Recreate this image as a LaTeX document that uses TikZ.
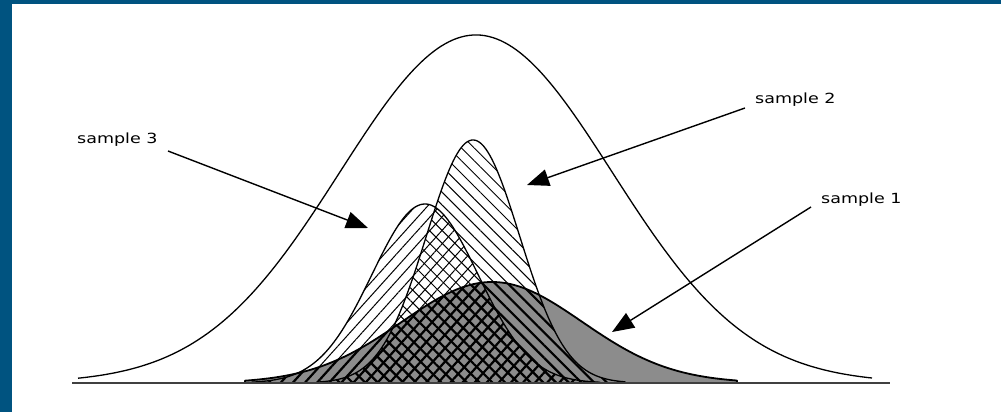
\documentclass[tikz,border=0pt]{standalone}
\usepackage{fontspec}
\newfontfamily\lblfont[FakeStretch=1.25]{DejaVu Sans}
\usetikzlibrary{patterns.meta,arrows.meta}
\definecolor{frameblue}{RGB}{0,83,128}
\definecolor{stipple}{RGB}{140,140,140}
\begin{document}
\begin{tikzpicture}[x=1pt,y=-1pt,
  declare function={gs(\x,\c,\s,\a)=383-\a*exp(-0.5*((\x-\c)/\s)^2);},
  curve/.style={draw=black, line width=1.3pt, line join=round},
  lbl/.style={font=\lblfont\fontsize{14}{16}\selectfont, inner sep=0pt, anchor=base west},
  arr/.style={line width=1.4pt, -{Triangle[length=22pt,width=17pt]}},
  hatchthree/.style={pattern={Lines[angle=48,distance=9pt,line width=#1]}, pattern color=black},
  hatchtwo/.style={pattern={Lines[angle=-45,distance=9pt,line width=#1]}, pattern color=black}
]
\useasboundingbox (0,0) rectangle (1001,412);
\fill[frameblue] (0,0) rectangle (1001,412);
\fill[white] (12,4) rectangle (1001,412);

% paths
\path[save path=\pone] (245,383) -- plot[domain=245:737,samples=150] (\x,{gs(\x,492,90,101)}) -- (737,383) -- cycle;
\path[save path=\ptwo] (320,383) -- plot[domain=320:625,samples=150] (\x,{gs(\x,473,46.5,243)}) -- (625,383) -- cycle;
\path[save path=\pthree] (252,383) -- plot[domain=252:600,samples=150] (\x,{gs(\x,425,53,179)}) -- (600,383) -- cycle;

% big population curve
\draw[curve] plot[domain=78:872,samples=200] (\x,{gs(\x,476,136,348)});

% sample 1 stipple
\fill[stipple, use path=\pone];
% hatches
\path[hatchthree=1pt, use path=\pthree];
\path[hatchtwo=1pt, use path=\ptwo];
\begin{scope}
  \clip[use path=\pone];
  \path[hatchthree=2.2pt, use path=\pthree];
  \path[hatchtwo=2.2pt, use path=\ptwo];
\end{scope}
% outlines
\draw[curve, use path=\pthree];
\draw[curve, use path=\ptwo];
\draw[curve, line width=1.8pt, use path=\pone];

% baseline
\draw[line width=2pt, draw=black!75] (72,383) -- (890,383);

% labels
\node[lbl] (l3) at (77,143) {sample 3};
\node[lbl] (l2) at (755,103) {sample 2};
\node[lbl] (l1) at (821,203) {sample 1};
\coordinate (s3) at (168,151);
\coordinate (t3) at (368,228);
\coordinate (s2) at (745,108);
\coordinate (t2) at (527,185);
\coordinate (s1) at (811,207);
\coordinate (t1) at (612,332);
\draw[arr] (s3) -- (t3);
\draw[arr] (s2) -- (t2);
\draw[arr] (s1) -- (t1);
\end{tikzpicture}
\end{document}
